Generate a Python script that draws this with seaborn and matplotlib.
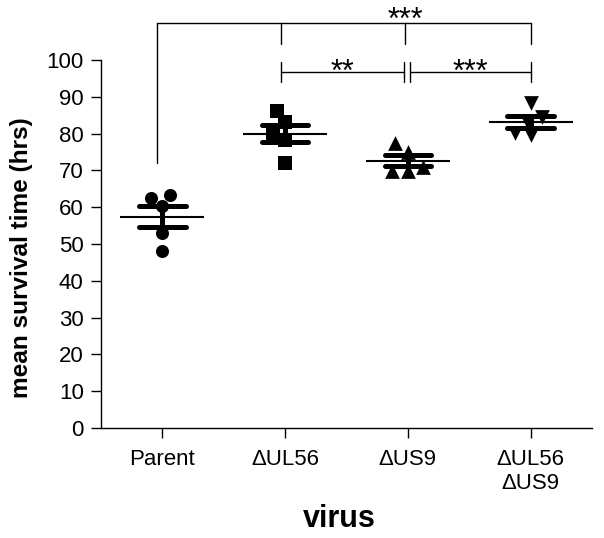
import numpy as np
import pandas as pd
import matplotlib
matplotlib.use('Agg')
import matplotlib.pyplot as plt
import seaborn as sns

# mean survival time (hrs) per mouse
viruses = ['Parent', 'ΔUL56', 'ΔUS9', 'ΔUL56\nΔUS9']
parent = [62.4, 63.3, 60.3, 52.9, 48.2]
ul56 = [83.2, 86.2, 80.0, 78.3, 72.1]
us9 = [77.4, 75.1, 71.0, 69.8, 69.8]
ul56_us9 = [88.2, 83.5, 84.4, 79.6, 80.1]
markers = ['o', 's', '^', 'v']
marker_sizes = [9.4, 9.6, 10.6, 10.6]

# significance: Parent vs all others, then the two pairwise tests
top_bar = 110.1
top_drop_parent = 72.0
top_drop_others = 104.3
top_label = '***'
pairs = [(1, 2, '**'), (2, 3, '***')]
pair_bar = 96.6

df = pd.DataFrame({
    'virus': np.repeat(viruses, 5),
    'mst': parent + ul56 + us9 + ul56_us9,
})

sns.set_style('ticks')
plt.rcParams['font.family'] = ['Liberation Sans', 'DejaVu Sans']
plt.rcParams['text.color'] = 'black'
plt.rcParams['axes.labelcolor'] = 'black'

fig = plt.figure(figsize=(6.04, 5.38), dpi=100)
ax = fig.add_axes([0.1672, 0.2045, 0.8129, 0.7935])

# individual animals
for v, m, ms in zip(viruses, markers, marker_sizes):
    sns.swarmplot(data=df[df['virus'] == v], x='virus', y='mst', order=viruses,
                  marker=m, size=ms, color='black', linewidth=0, ax=ax)

# mean +/- SEM
sns.pointplot(data=df, x='virus', y='mst', order=viruses, errorbar='se',
              capsize=0.38, color='black', markers='_', markersize=60,
              markeredgewidth=1.5, linestyle='none',
              err_kws={'linewidth': 3.6}, ax=ax)

# brackets
lw = 1.0
ax.plot([-0.04, 3.0], [top_bar, top_bar], color='black', lw=lw, clip_on=False)
ax.plot([-0.04, -0.04], [top_bar, top_drop_parent], color='black', lw=lw)
for x in [0.97, 1.98, 3.0]:
    ax.plot([x, x], [top_bar, top_drop_others], color='black', lw=lw)
ax.text(1.98, 108.4, top_label, ha='center', va='baseline', fontsize=22)

for a, b, lab in pairs:
    x0 = a - 0.03 if a == 1 else a + 0.015
    x1 = b - 0.035 if b == 2 else b
    ax.plot([x0, x1], [pair_bar, pair_bar], color='black', lw=lw)
    for x in [x0, x1]:
        ax.plot([x, x], [pair_bar - 2.7, pair_bar + 2.9], color='black', lw=lw)
    ax.text((x0 + x1) / 2, 94.2, lab, ha='center', va='baseline', fontsize=22)

ax.set_xlim(-0.5, 3.5)
ax.set_ylim(0, 116)
ax.set_yticks(range(0, 101, 10))
ax.spines['top'].set_visible(False)
ax.spines['right'].set_visible(False)
ax.spines['left'].set_bounds(0, 100)
for s in ['left', 'bottom']:
    ax.spines[s].set_linewidth(1.0)
    ax.spines[s].set_color('black')
ax.tick_params(axis='both', length=7, width=1, color='black', labelsize=16,
               labelcolor='black')
ax.tick_params(axis='y', pad=5.5)
ax.tick_params(axis='x', pad=8)

ax.set_xlabel('virus', fontsize=22, fontweight='bold')
ax.xaxis.label.set_va('baseline')
ax.xaxis.set_label_coords(0.486, -0.232)
ax.set_ylabel('mean survival time (hrs)', fontsize=17.6, fontweight='bold')
ax.yaxis.label.set_va('center')
ax.yaxis.set_label_coords(-0.1615, 0.398)

fig.savefig('out.png', dpi=100)
